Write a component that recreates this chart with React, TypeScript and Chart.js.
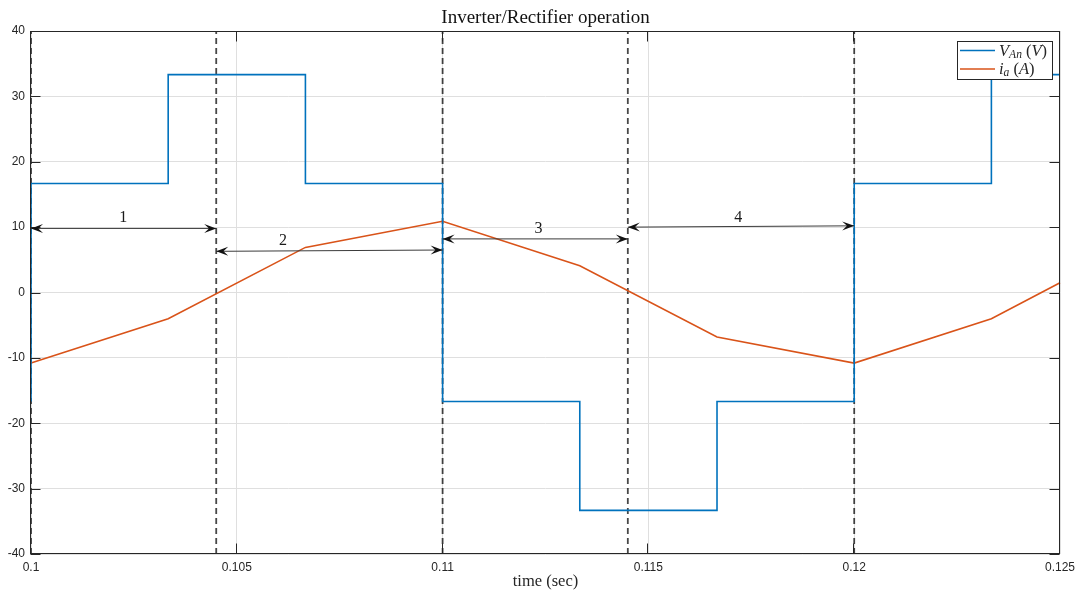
import React, { useEffect, useRef } from "react";
import { Chart, registerables } from "chart.js";

Chart.register(...registerables);

// ---------- data ----------
const vTime = [0.1, 0.1, 0.103333, 0.103333, 0.106667, 0.106667, 0.11, 0.11, 0.113333, 0.113333, 0.116667, 0.116667, 0.12, 0.12, 0.123333, 0.123333, 0.125];
const vAn = [-16.67, 16.67, 16.67, 33.33, 33.33, 16.67, 16.67, -16.67, -16.67, -33.33, -33.33, -16.67, -16.67, 16.67, 16.67, 33.33, 33.33];

const iTime = [0.1, 0.103333, 0.106667, 0.11, 0.113333, 0.116667, 0.12, 0.123333, 0.125];
const iA = [-10.8, -4.0, 6.9, 10.9, 4.1, -6.8, -10.8, -4.0, 1.5];

const markTimes = [0.1, 0.1045, 0.11, 0.1145, 0.12];

const xTicks = [0.1, 0.105, 0.11, 0.115, 0.12, 0.125];
const xTickLabels = ["0.1", "0.105", "0.11", "0.115", "0.12", "0.125"];
const yTicks = [-40, -30, -20, -10, 0, 10, 20, 30, 40];
const yTickLabels = ["-40", "-30", "-20", "-10", "0", "10", "20", "30", "40"];

const arrowStartX = [0.1, 0.1045, 0.11, 0.1145];
const arrowEndX = [0.1045, 0.11, 0.1145, 0.12];
const arrowStartY = [9.8, 6.3, 8.2, 10.0];
const arrowEndY = [9.8, 6.5, 8.2, 10.2];
const arrowLabels = ["1", "2", "3", "4"];
const arrowLabelX = [0.10224, 0.10612, 0.11233, 0.11718];
const arrowLabelY = [11.4, 7.9, 9.7, 11.5];

const TITLE = "Inverter/Rectifier operation";
const XLABEL = "time (sec)";

const BLUE = "#0072BD";
const ORANGE = "#D95319";
const AXIS = "#262626";
const SERIF = "'Liberation Serif', 'DejaVu Serif', serif";
const SANS = "'Liberation Sans', Arial, sans-serif";

function arrowHead(ctx: CanvasRenderingContext2D, tx: number, ty: number, ang: number) {
  const L = 12, W = 9;
  ctx.save();
  ctx.translate(tx, ty);
  ctx.rotate(ang);
  ctx.beginPath();
  ctx.moveTo(0, 0);
  ctx.lineTo(-L, -W / 2);
  ctx.lineTo(-L * 0.6, 0);
  ctx.lineTo(-L, W / 2);
  ctx.closePath();
  ctx.fillStyle = "#111";
  ctx.fill();
  ctx.restore();
}

// draws a sequence of [text, italic, sub] runs
function drawRuns(ctx: CanvasRenderingContext2D, x: number, y: number, runs: [string, boolean, boolean][], size: number) {
  let cx = x;
  for (const [t, it, sub] of runs) {
    const s = sub ? size * 0.7 : size;
    ctx.font = `${it ? "italic " : ""}${s}px ${SERIF}`;
    ctx.fillText(t, cx, sub ? y + size * 0.13 : y);
    cx += ctx.measureText(t).width;
  }
}

const decorPlugin = {
  id: "decor",
  afterDatasetsDraw(chart: any) {
    const { ctx, chartArea: a, scales } = chart;
    const xs = scales.x, ys = scales.y;
    ctx.save();

    // axes box
    ctx.strokeStyle = AXIS;
    ctx.lineWidth = 1;
    const L = Math.round(a.left) - 0.5, R = Math.round(a.right) - 0.5;
    const T = Math.round(a.top) + 0.5, B = Math.round(a.bottom) - 0.5;
    ctx.strokeRect(L, T, R - L, B - T);

    // inward tick marks
    ctx.beginPath();
    for (const v of xTicks) {
      const px = Math.round(xs.getPixelForValue(v)) - 0.5;
      ctx.moveTo(px, B); ctx.lineTo(px, B - 10);
      ctx.moveTo(px, T); ctx.lineTo(px, T + 10);
    }
    for (const v of yTicks) {
      const py = Math.round(ys.getPixelForValue(v)) + 0.5;
      ctx.moveTo(L, py); ctx.lineTo(L + 10, py);
      ctx.moveTo(R, py); ctx.lineTo(R - 10, py);
    }
    ctx.stroke();

    // arrows
    for (let i = 0; i < arrowLabels.length; i++) {
      const x1 = xs.getPixelForValue(arrowStartX[i]);
      const x2 = xs.getPixelForValue(arrowEndX[i]);
      const y1 = ys.getPixelForValue(arrowStartY[i]);
      const y2 = ys.getPixelForValue(arrowEndY[i]);
      ctx.strokeStyle = "#3a3a3a";
      ctx.lineWidth = 1;
      ctx.beginPath();
      ctx.moveTo(x1, y1);
      ctx.lineTo(x2, y2);
      ctx.stroke();
      const ang = Math.atan2(y2 - y1, x2 - x1);
      arrowHead(ctx, x2, y2, ang);
      arrowHead(ctx, x1, y1, ang + Math.PI);
      ctx.fillStyle = "#1a1a1a";
      ctx.font = `16px ${SERIF}`;
      ctx.textAlign = "center";
      ctx.textBaseline = "middle";
      ctx.fillText(arrowLabels[i], xs.getPixelForValue(arrowLabelX[i]), ys.getPixelForValue(arrowLabelY[i]));
    }

    // legend
    const lx = 957.5, ly = 41.5, lw = 95, lh = 38;
    ctx.fillStyle = "#fff";
    ctx.fillRect(lx, ly, lw, lh);
    ctx.strokeStyle = AXIS;
    ctx.lineWidth = 1;
    ctx.strokeRect(lx, ly, lw, lh);
    const rows: { color: string; runs: [string, boolean, boolean][] }[] = [
      { color: BLUE, runs: [["V", true, false], ["An", true, true], [" (", false, false], ["V", true, false], [")", false, false]] },
      { color: ORANGE, runs: [["i", true, false], ["a", true, true], [" (", false, false], ["A", true, false], [")", false, false]] },
    ];
    rows.forEach((r, k) => {
      const ry = 50.5 + k * 18.5;
      ctx.strokeStyle = r.color;
      ctx.lineWidth = 1.5;
      ctx.beginPath();
      ctx.moveTo(960, ry);
      ctx.lineTo(995, ry);
      ctx.stroke();
      ctx.fillStyle = AXIS;
      ctx.textAlign = "left";
      ctx.textBaseline = "alphabetic";
      drawRuns(ctx, 999, ry + 5, r.runs, 16.5);
    });

    // title & x label
    ctx.fillStyle = "#111";
    ctx.textAlign = "center";
    ctx.textBaseline = "alphabetic";
    ctx.font = `19px ${SERIF}`;
    ctx.fillText(TITLE, (a.left + a.right) / 2, 23);
    ctx.fillStyle = AXIS;
    ctx.font = `16.5px ${SERIF}`;
    ctx.fillText(XLABEL, (a.left + a.right) / 2, 586);

    ctx.restore();
  },
};

export default function App() {
  const ref = useRef<HTMLCanvasElement | null>(null);

  useEffect(() => {
    document.body.style.margin = "0";
    const canvas = ref.current;
    if (!canvas) return;

    const dashed = markTimes.map((t) => ({
      data: [{ x: t, y: -40 }, { x: t, y: 40 }],
      borderColor: "rgba(0,0,0,0.72)",
      borderWidth: 1.8,
      borderDash: [6, 4],
      pointRadius: 0,
      clip: 4,
    }));

    const chart = new Chart(canvas, {
      type: "line",
      data: {
        datasets: [
          {
            label: "V_An (V)",
            data: vTime.map((t, i) => ({ x: t, y: vAn[i] })),
            borderColor: BLUE,
            borderWidth: 1.6,
            pointRadius: 0,
            tension: 0,
            clip: 4,
          },
          {
            label: "i_a (A)",
            data: iTime.map((t, i) => ({ x: t, y: iA[i] })),
            borderColor: ORANGE,
            borderWidth: 1.6,
            pointRadius: 0,
            tension: 0,
            clip: 4,
          },
          ...dashed,
        ] as any,
      },
      options: {
        animation: false,
        responsive: false,
        devicePixelRatio: 1,
        layout: { padding: { top: 31, right: 17, left: 0, bottom: 0 } },
        plugins: { legend: { display: false }, tooltip: { enabled: false }, title: { display: false } },
        scales: {
          x: {
            type: "linear",
            min: 0.1,
            max: 0.125,
            afterBuildTicks: (s: any) => {
              s.ticks = xTicks.map((v) => ({ value: v }));
            },
            afterFit: (s: any) => {
              s.height = 38;
              s.paddingLeft = 0;
              s.paddingRight = 0;
            },
            ticks: {
              callback: (_v: any, i: number) => xTickLabels[i],
              font: { family: SANS, size: 12 },
              color: AXIS,
              padding: 6,
              maxRotation: 0,
              autoSkip: false,
            },
            grid: { color: "#dfdfdf", drawTicks: false, lineWidth: 1 },
            border: { display: false },
          },
          y: {
            type: "linear",
            min: -40,
            max: 40,
            afterBuildTicks: (s: any) => {
              s.ticks = yTicks.map((v) => ({ value: v }));
            },
            afterFit: (s: any) => {
              s.width = 31;
              s.paddingTop = 0;
              s.paddingBottom = 0;
            },
            ticks: {
              callback: (_v: any, i: number) => yTickLabels[i],
              font: { family: SANS, size: 12 },
              color: AXIS,
              padding: 6,
              autoSkip: false,
            },
            grid: { color: "#dfdfdf", drawTicks: false, lineWidth: 1 },
            border: { display: false },
          },
        },
      },
      plugins: [decorPlugin],
    } as any);

    return () => chart.destroy();
  }, []);

  return (
    <div style={{ width: 1077, height: 592 }}>
      <canvas ref={ref} width={1077} height={592} style={{ display: "block" }} />
    </div>
  );
}
